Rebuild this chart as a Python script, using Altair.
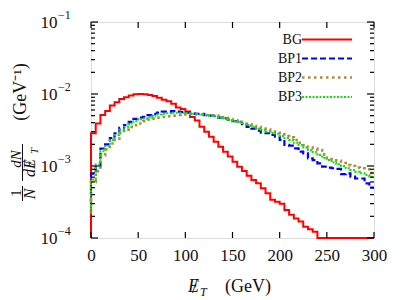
import altair as alt
import pandas as pd

# ---------------- data ----------------
series = ["BG", "BP1", "BP2", "BP3"]
colors = ["#ff0000", "#0000ff", "#b08a3e", "#11dd11"]
dashes = [[1, 0], [6, 3], [2.5, 3.5], [2, 1.5]]
widths = [2.0, 2.2, 2.6, 2.0]

bin_lo = list(range(0, 300, 5))  # 5 GeV bins, 0..300

BG = [2.85e-3, 3.9e-3, 5.1e-3, 5.8e-3, 6.9e-3, 7.7e-3, 8.5e-3, 9.0e-3, 9.5e-3, 9.9e-3,
      1.0e-2, 9.9e-3, 9.7e-3, 9.4e-3, 8.9e-3, 8.3e-3, 7.9e-3, 7.3e-3, 6.5e-3, 6.2e-3,
      5.7e-3, 4.8e-3, 4.3e-3, 3.5e-3, 3.0e-3, 2.55e-3, 2.18e-3, 1.85e-3, 1.58e-3, 1.35e-3,
      1.15e-3, 9.8e-4, 8.5e-4, 7.3e-4, 6.4e-4, 5.75e-4, 4.9e-4, 4.2e-4, 3.4e-4, 3.2e-4,
      3.0e-4, 2.45e-4, 2.1e-4, 1.87e-4, 1.7e-4, 1.43e-4, 1.32e-4, 1.22e-4, 1e-4, 1e-4,
      1e-4, 1e-4, 1e-4, 1e-4, 1e-4, 1e-4, 1e-4, 1e-4, 1e-4, 1e-4]

BP1 = [7.8e-4, 1.0e-3, 1.75e-3, 2.0e-3, 2.45e-3, 2.85e-3, 3.4e-3, 3.7e-3, 4.1e-3, 4.5e-3,
       4.7e-3, 4.8e-3, 5.1e-3, 5.3e-3, 5.5e-3, 5.7e-3, 5.7e-3, 5.8e-3, 5.7e-3, 5.6e-3,
       5.5e-3, 5.4e-3, 5.3e-3, 5.3e-3, 5.1e-3, 5.0e-3, 4.95e-3, 4.7e-3, 4.6e-3, 4.4e-3,
       4.2e-3, 4.1e-3, 3.8e-3, 3.5e-3, 3.3e-3, 3.1e-3, 2.9e-3, 2.85e-3, 2.7e-3, 2.55e-3,
       2.3e-3, 1.96e-3, 1.92e-3, 1.76e-3, 1.58e-3, 1.5e-3, 1.28e-3, 1.21e-3, 1.09e-3, 9.8e-4,
       9.5e-4, 9.3e-4, 9.1e-4, 7.7e-4, 7.9e-4, 7.1e-4, 6.7e-4, 6.7e-4, 5.75e-4, 5.0e-4]

BP2 = [6.0e-4, 8.5e-4, 1.4e-3, 1.7e-3, 2.05e-3, 2.4e-3, 2.85e-3, 3.2e-3, 3.5e-3, 3.7e-3,
       3.9e-3, 4.2e-3, 4.4e-3, 4.55e-3, 4.7e-3, 4.8e-3, 4.9e-3, 5.0e-3, 5.1e-3, 5.2e-3,
       5.3e-3, 5.3e-3, 5.3e-3, 5.2e-3, 5.1e-3, 5.0e-3, 5.0e-3, 4.8e-3, 4.7e-3, 4.5e-3,
       4.3e-3, 4.2e-3, 4.0e-3, 3.8e-3, 3.6e-3, 3.5e-3, 3.3e-3, 3.2e-3, 3.0e-3, 2.9e-3,
       2.75e-3, 2.6e-3, 2.5e-3, 2.3e-3, 2.1e-3, 1.95e-3, 1.8e-3, 1.75e-3, 1.66e-3, 1.45e-3,
       1.3e-3, 1.25e-3, 1.18e-3, 1.1e-3, 1.03e-3, 1.0e-3, 9.5e-4, 9.3e-4, 9.0e-4, 8.0e-4]

BP3 = [6.5e-4, 1.05e-3, 1.6e-3, 1.9e-3, 2.3e-3, 2.7e-3, 3.2e-3, 3.5e-3, 3.9e-3, 4.2e-3,
       4.5e-3, 4.6e-3, 4.8e-3, 5.0e-3, 5.2e-3, 5.3e-3, 5.4e-3, 5.5e-3, 5.5e-3, 5.5e-3,
       5.4e-3, 5.3e-3, 5.2e-3, 5.2e-3, 5.1e-3, 5.0e-3, 4.9e-3, 4.7e-3, 4.6e-3, 4.4e-3,
       4.2e-3, 4.1e-3, 3.9e-3, 3.7e-3, 3.5e-3, 3.3e-3, 3.2e-3, 3.0e-3, 2.9e-3, 2.8e-3,
       2.6e-3, 2.45e-3, 2.3e-3, 2.1e-3, 1.96e-3, 1.8e-3, 1.66e-3, 1.55e-3, 1.42e-3, 1.3e-3,
       1.21e-3, 1.12e-3, 1.06e-3, 1.0e-3, 9.3e-4, 8.8e-4, 8.3e-4, 7.9e-4, 7.5e-4, 7.1e-4]

# value where each histogram outline starts at x = 0
start_vals = [1e-4, 3e-4, 2.2e-4, 2.2e-4]

x_ticks = [0, 50, 100, 150, 200, 250, 300]
y_major = [1e-4, 1e-3, 1e-2, 1e-1]
y_exps = ["\u22124", "\u22123", "\u22122", "\u22121"]
y_minor = [m * 10.0 ** e for e in (-4, -3, -2) for m in range(2, 10)]

# ---------------- layout ----------------
W, H = 283, 216
FONT = "Liberation Serif"
legend_y = [17.5, 36.5, 55.5, 75]

values = [BG, BP1, BP2, BP3]
rows = []
for s, v, st in zip(series, values, start_vals):
    rows.append({"s": s, "x": 0, "y": st, "o": 0})
    for i, (xl, yv) in enumerate(zip(bin_lo, v)):
        rows.append({"s": s, "x": xl, "y": yv, "o": i + 1})
    rows.append({"s": s, "x": 300, "y": v[-1], "o": len(v) + 1})
df = pd.DataFrame(rows)

xscale = alt.Scale(domain=[0, 300], nice=False, zero=False)
yscale = alt.Scale(type="log", domain=[1e-4, 1e-1], nice=False)

xaxis = alt.Axis(values=x_ticks, ticks=False, grid=False, domain=False, title=None,
                 labelFont=FONT, labelFontSize=17, labelColor="#111", labelPadding=9,
                 labelFlush=False)
yaxis = alt.Axis(values=y_major, labelExpr="'10'", ticks=False, grid=False, domain=False,
                 title=None, labelFont=FONT, labelFontSize=17, labelColor="#111",
                 labelPadding=34, labelBaseline="middle")

layers = []

# histogram outlines
for i, s in enumerate(series):
    layers.append(
        alt.Chart(df[df.s == s]).mark_line(
            interpolate="step-after", color=colors[i], strokeWidth=widths[i],
            strokeDash=dashes[i])
        .encode(x=alt.X("x:Q", scale=xscale, axis=xaxis),
                y=alt.Y("y:Q", scale=yscale, axis=yaxis), order="o:Q")
    )

# inward ticks
dmaj = pd.DataFrame({"y": y_major})
dmin = pd.DataFrame({"y": y_minor})
dxt = pd.DataFrame({"x": x_ticks})
for d, ln in ((dmaj, 7), (dmin, 4)):
    layers.append(alt.Chart(d).mark_rule(color="black", strokeWidth=1.2).encode(
        y=alt.Y("y:Q", scale=yscale, axis=yaxis), x=alt.value(0), x2=alt.value(ln)))
    layers.append(alt.Chart(d).mark_rule(color="black", strokeWidth=1.2).encode(
        y=alt.Y("y:Q", scale=yscale, axis=yaxis), x=alt.value(W - ln), x2=alt.value(W)))
layers.append(alt.Chart(dxt).mark_rule(color="black", strokeWidth=1.2).encode(
    x=alt.X("x:Q", scale=xscale, axis=xaxis), y=alt.value(H - 6), y2=alt.value(H)))
layers.append(alt.Chart(dxt).mark_rule(color="black", strokeWidth=1.2).encode(
    x=alt.X("x:Q", scale=xscale, axis=xaxis), y=alt.value(0), y2=alt.value(6)))

# exponents of the y tick labels
dexp = pd.DataFrame({"y": y_major, "e": y_exps})
layers.append(alt.Chart(dexp).mark_text(align="left", baseline="middle", dy=-7,
                                        font=FONT, fontSize=12, color="#111").encode(
    y=alt.Y("y:Q", scale=yscale, axis=yaxis), x=alt.value(-33), text="e:N"))

# legend (label left, line sample right)
for i, s in enumerate(series):
    layers.append(alt.Chart(pd.DataFrame({"t": [s]})).mark_text(
        align="right", baseline="middle", font=FONT, fontSize=14, color="#111").encode(
        x=alt.value(211), y=alt.value(legend_y[i]), text="t:N"))
    layers.append(alt.Chart(pd.DataFrame({"t": [s]})).mark_rule(
        color=colors[i], strokeWidth=widths[i], strokeDash=dashes[i]).encode(
        x=alt.value(211), x2=alt.value(261), y=alt.value(legend_y[i])))


def txt(t, x, y, size, italic=False, angle=0, align="left", baseline="alphabetic"):
    kw = dict(align=align, baseline=baseline, font=FONT, fontSize=size, color="#111",
              text=t)
    if italic:
        kw["fontStyle"] = "italic"
    if angle:
        kw["angle"] = angle
    return alt.Chart(pd.DataFrame({"t": [t]})).mark_text(**kw).encode(
        x=alt.value(x), y=alt.value(y))


# x-axis title: E-slash_T (GeV)
layers += [
    txt("E", 97, 270, 18, italic=True),
    txt("/", 101, 271, 19),
    txt("T", 109, 274, 12, italic=True),
    txt("(GeV)", 134, 270, 18),
]

# y-axis title: (1/N) dN/dE-slash_T (GeV^-1), rotated
yt = dict(angle=270, align="center", baseline="middle")
layers += [
    txt("1", -75, 171, 15, **yt),
    txt("N", -61, 172, 16, italic=True, **yt),
    txt("dN", -75, 137, 15, italic=True, **yt),
    txt("dE", -61, 146, 16, italic=True, **yt),
    txt("/", -61, 141, 18, **yt),
    txt("T", -56, 129, 11, italic=True, **yt),
    txt("(GeV\u207b\u00b9)", -70, 70, 18, **yt),
]
layers.append(alt.Chart(pd.DataFrame({"t": [1]})).mark_rule(color="#111", strokeWidth=1).encode(
    x=alt.value(-68.5), y=alt.value(164), y2=alt.value(179)))
layers.append(alt.Chart(pd.DataFrame({"t": [1]})).mark_rule(color="#111", strokeWidth=1).encode(
    x=alt.value(-68.5), y=alt.value(122), y2=alt.value(159)))

chart = alt.layer(*layers).properties(
    width=W, height=H,
    autosize=alt.AutoSizeParams(type="none"),
    padding={"left": 83, "top": 14, "right": 16, "bottom": 62},
).configure_view(stroke="black", strokeWidth=1.5).configure(background="white")

chart.save("out.html", embed_options={"renderer": "svg", "actions": False})
